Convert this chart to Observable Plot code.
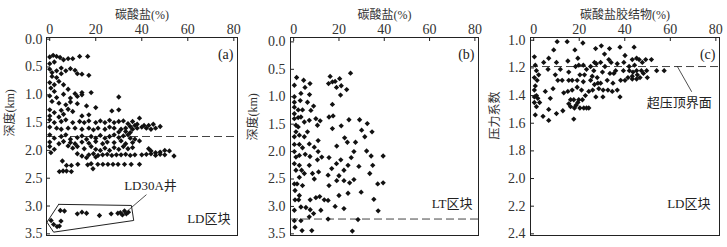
<!DOCTYPE html>
<html><head><meta charset="utf-8">
<script src="https://cdn.jsdelivr.net/npm/d3@7"></script>
<script src="https://cdn.jsdelivr.net/npm/@observablehq/plot@0.6"></script>
<style>
html,body{margin:0;padding:0;background:#fff;}
#wrap{position:relative;width:727px;height:247px;overflow:hidden;}
#wrap svg{position:absolute;top:0;}
#wrap svg text{font-family:'Liberation Serif','Noto Sans CJK SC',serif;}
</style></head><body><div id="wrap"></div>
<script>
// ---------- data ----------
const xTicks = [0, 20, 40, 60, 80];
const depthTicks = [0, 0.5, 1.0, 1.5, 2.0, 2.5, 3.0, 3.5];
const pressTicks = [1.0, 1.2, 1.4, 1.6, 1.8, 2.0, 2.2, 2.4];

// panel (a): carbonate % vs depth km, LD block
const carbA = [0,1.5,3,4.5,6,8,10,13,16.5,0,2,
0,1,3,5,7,9,11,12,14,17,1,3,5,
0,2,4,6,0.5,2,8,11,14,18,
0,3,6,9,12,14,30,1,4,7,9,12,16,20,
0,2,5,8,10,14,17,27,30,0,4,6,
0,2,5,7,10,13,15,17,20,22,24,26,28,30,32,34,36,39,41,43,45,48,37,38,
0,3,5,8,11,14,17,19,21,24,26,28,31,33,35,36,38,40,42,44,46,33,35,30,
0,2,5,7,9,12,14,16,18,20,22,24,26,28,30,32,34,35,37,39,0,4,6,9,11,14,17,20,23,25,28,31,33,36,
0,2,0.5,8,10,12,15,18,20,22,24,26,28,30,32,34,36,43,44,46,48,50,52,
12,14,17,19,21,23,25,27,29,31,33,35,37,40,42,44,46,48,50,54,16,20,
5.5,7.3,9.4,12.2,16.5,18,20.9,23.1,25.3,27.5,29.7,32.5,35.4,39,4.2,5.8,7.3,9.4,18.8,
4.6,6.4,12,14,16,21.6,26.7,29.6,30.7,31.6,32.5,33.3,34.2,0.6,1.7,3.2,4.2,4.9];
const depthA = [0.32,0.29,0.31,0.33,0.37,0.35,0.35,0.31,0.31,0.44,0.41,
0.54,0.6,0.57,0.52,0.57,0.53,0.56,0.62,0.63,0.65,0.67,0.69,0.62,
0.78,0.82,0.76,0.82,0.88,0.94,0.9,0.98,0.96,0.96,
1.02,1.05,0.99,1.06,1.03,1.0,1.04,1.12,1.15,1.18,1.13,1.16,1.2,1.23,
1.27,1.32,1.28,1.26,1.3,1.38,1.36,1.29,1.27,1.38,1.4,1.35,
1.45,1.5,1.48,1.45,1.5,1.48,1.5,1.47,1.5,1.47,1.5,1.46,1.5,1.48,1.47,1.52,1.48,1.42,1.55,1.55,1.53,1.57,1.55,1.53,
1.58,1.6,1.62,1.6,1.6,1.62,1.6,1.63,1.6,1.62,1.58,1.6,1.62,1.6,1.57,1.62,1.6,1.58,1.6,1.62,1.6,1.66,1.68,1.67,
1.72,1.78,1.75,1.72,1.8,1.77,1.74,1.8,1.75,1.78,1.73,1.78,1.75,1.72,1.77,1.74,1.72,1.78,1.8,1.83,1.85,1.88,1.84,1.86,1.88,1.85,1.87,1.84,1.88,1.85,1.86,1.83,1.88,1.86,
1.93,1.98,2.04,1.92,1.96,1.93,1.97,1.93,1.98,2.0,1.96,2.0,1.95,1.98,1.93,1.97,1.95,1.97,2.01,2.04,2.03,2.0,2.01,
2.06,2.1,2.08,2.06,2.09,2.08,2.07,2.09,2.08,2.08,2.07,2.09,2.08,2.08,2.07,2.06,2.09,2.07,2.08,2.1,2.13,2.12,
2.19,2.27,2.27,2.25,2.26,2.24,2.25,2.25,2.25,2.25,2.25,2.25,2.25,2.25,2.38,2.37,2.37,2.38,2.33,
3.08,3.09,3.14,3.11,3.13,3.17,3.14,3.13,3.12,3.16,3.09,3.14,3.11,3.26,3.33,3.37,3.36,3.27];
// LD30A well outline (annotation) and its leader
const boxX = [3.9,35.5,36.5,1.7,-1.2,3.9];
const boxY = [2.97,2.99,3.26,3.47,3.29,2.97];
const leadAX = [34.3,41.9];
const leadAY = [3.07,2.8];

// panel (b): carbonate % vs depth km, LT block
const carbB = [1.3,0.3,4.4,5,7.2,3.2,7,0.3,0.3,2.9,6.1,8.8,7.6,3.9,2,0.3,0.3,0.3,1,2,3.2,4.7,6.9,9.8,11.7,10.5,1,2,6.1,2.5,0.3,0.3,4.7,6.9,2.5,10.8,9.1,3.9,0.3,1,2.5,5.1,7.2,10.8,12.4,10.5,0.3,1,2.5,3.5,4.7,6.9,8.3,11,9.1,2.5,0.3,1.5,3.9,0.6,2.5,0.6,2.2,7.3,9.8,11.5,13.5,15.2,0.3,3.2,5.4,7.3,8.8,6.9,12,0.3,3.2,15.2,0.6,3.7,8,25.9,28.4,
25.1,16.1,15.4,17.1,18.3,20.3,18.9,21,23.4,20.7,17.1,15.6,17.4,24.4,21,17.1,22.5,19,23.7,29.1,32.5,30,31.4,34.6,27.3,32.2,26.6,34.2,39.5,25.4,15.6,20.8,18.9,24,16.8,22.2,15.2,20,28.8,34.9,33.6,26.6,24.7,19,22.2,15.6,37.1,39.5,29.8,24,20,35.4,18.3,22.2,37.3];
const depthB = [0.65,0.79,0.70,0.83,0.76,0.94,0.96,1.0,1.1,1.07,1.1,1.17,1.25,1.24,1.24,1.19,1.31,1.4,1.52,1.38,1.37,1.46,1.43,1.4,1.44,1.52,1.64,1.55,1.64,1.7,1.73,1.87,1.73,1.86,1.87,1.8,1.92,1.93,2.0,2.1,2.07,2.05,2.09,2.0,2.1,2.15,2.22,2.34,2.25,2.34,2.4,2.25,2.4,2.37,2.5,2.47,2.59,2.59,2.62,2.71,2.8,2.88,2.88,2.88,2.84,2.82,2.88,2.89,3.07,3.01,3.02,3.06,3.13,3.19,3.07,3.26,3.26,3.23,3.38,3.44,3.44,3.45,3.24,
0.57,0.63,0.76,0.73,0.72,0.67,0.83,0.8,0.87,0.97,1.14,1.37,1.35,1.42,1.53,1.58,1.75,1.9,1.83,1.42,1.49,1.61,1.73,1.64,1.83,1.99,2.0,2.08,2.08,2.11,2.11,2.15,2.22,2.25,2.31,2.34,2.43,2.44,2.27,2.25,2.4,2.51,2.57,2.53,2.53,2.62,2.59,2.57,2.74,2.76,2.8,2.87,3.0,3.04,3.08];

// panel (c): carbonate cement % vs pressure coefficient, LD block
const cementC = [0.3,0.7,1.2,2.2,0.3,1.5,0.7,0.3,1.2,0.3,1.8,2.6,0.3,1.2,0.7,4.1,6.6,6.6,7.3,4.4,6.6,6.3,8.5,5.1,10,12.8,8.8,10.3,10,11.7,9.5,10.6,12.5,13.2,15,15.4,14.7,15,15.4,16.9,16.9,16.2,15.4,16.2,17.6,17.9,18.1,18.4,19.4,19.8,20.3,19.1,19.1,21,19.8,19.4,20.3,18.6,21.6,21.8,22.3,21.8,21.4,22,23.2,24.2,17.6,22.7,24.2,25,25.7,23.2,25,26.4,27.2,26.7,27.5,27.9,26.7,25.9,28.6,28.2,27.3,29.7,29.4,30.2,29.4,30.5,30.4,31.1,31.3,32.3,32.6,33.3,33,34,33.5,34.8,35.2,34.5,36.7,36,36.7,38.2,37.9,37.9,39.4,40.1,39.6,40.1,41.4,41.9,43.3,43.3,44.1,43.6,43.3,44.3,45.2,45.2,45.5,46.3,46.7,47.3,47.7,48.2,49.2,49.6,49.9,51.7,54,57.3,45.2,42];
const pressC = [1.12,1.18,1.22,1.25,1.27,1.29,1.33,1.36,1.4,1.41,1.42,1.45,1.45,1.48,1.54,1.55,1.58,1.5,1.42,1.16,1.13,1.21,1.35,1.37,1.53,1.51,1.07,1.01,1.16,1.21,1.25,1.29,1.29,1.38,1.37,1.29,1.01,1.15,1.23,1.29,1.36,1.43,1.46,1.48,1.43,1.49,1.07,1.19,1.13,1.18,1.25,1.29,1.34,1.36,1.43,1.45,1.49,1.47,1.02,1.18,1.25,1.3,1.43,1.49,1.49,1.49,1.57,1.4,1.37,1.29,1.26,1.21,1.19,1.22,1.06,1.16,1.17,1.27,1.32,1.36,1.35,1.31,1.41,1.04,1.16,1.23,1.31,1.36,1.41,1.1,1.19,1.29,1.36,1.06,1.14,1.16,1.24,1.31,1.24,1.37,1.36,1.22,1.17,1.29,1.41,1.05,1.22,1.11,1.16,1.29,1.27,1.19,1.14,1.26,1.05,1.23,1.28,1.18,1.13,1.22,1.25,1.14,1.27,1.22,1.16,1.24,1.14,1.22,1.27,1.14,1.22,1.22,1.28,1.22];
const leadCX = [63.1,69.3];
const leadCY = [1.19,1.37];

// ---------- drawing ----------
const FONT = "'Liberation Serif','Noto Sans CJK SC',serif";
const INK = "#222";
const TXT = "#333";
const H = 247, MT = 37, MB = 12;

function panel(o){
  const innerW = o.width - o.ml - o.mr;
  const innerH = H - MT - MB;
  const pts = o.xs.map((x,i)=>({x, y:o.ys[i]}));
  const marks = [
    Plot.ruleY([o.dash], {y:d=>d, stroke:"#444", strokeWidth:1, strokeDasharray:"8,4"}),
    Plot.dot(pts, {x:"x", y:"y", symbol:"diamond2", r:2.4, fill:"#111", stroke:"none"}),
    Plot.frame({stroke:INK, strokeWidth:1}),
    Plot.tickX(xTicks, {x:d=>d, insetBottom: innerH-4, stroke:INK}),
    Plot.tickY(o.yTicks, {y:d=>d, insetRight: innerW-4, stroke:INK}),
    Plot.axisX(xTicks, {anchor:"top", tickSize:0, tickPadding:4, label:null, fontSize:14, fontFamily:FONT, fill:TXT}),
    Plot.axisY(o.yTicks, {anchor:"left", tickSize:0, tickPadding:o.tp, tickFormat:d3.format(".1f"), label:null, fontSize:14, fontFamily:FONT, fill:TXT}),
    Plot.text([o.title], {text:d=>d, frameAnchor:"top", dy:-27, fontSize:12, fontFamily:FONT, fill:TXT}),
    Plot.text([o.ylabel], {text:d=>d, frameAnchor:"left", dx:o.ydx, dy:o.ydy, rotate:-90, fontSize:12, fontFamily:FONT, fill:TXT}),
    Plot.text([o.tag], {text:d=>d, frameAnchor:"top-right", textAnchor:"end", dx:-4, dy:12, fontSize:14, fontFamily:FONT, fill:INK}),
    Plot.text([o.block], {text:d=>d, frameAnchor:"bottom-right", textAnchor:"end", dx:o.bdx, dy:o.bdy, fontSize:13, fontFamily:FONT, fill:INK}),
    ...(o.extra||[])
  ];
  const svg = Plot.plot({
    width:o.width, height:H, marginLeft:o.ml, marginRight:o.mr, marginTop:MT, marginBottom:MB,
    x:{domain:[-1.4,81.6], axis:null},
    y:{domain:o.yDomain, reverse:true, axis:null},
    style:{fontFamily:FONT, fontSize:"13px", color:TXT, background:"transparent", overflow:"visible"},
    marks
  });
  svg.style.left = o.left + "px";
  document.getElementById("wrap").appendChild(svg);
}

const ln = (xs, ys) => xs.map((x,i)=>({x, y:ys[i]}));

panel({left:0, width:240, ml:46, mr:3, yDomain:[-0.03,3.53], yTicks:depthTicks, tp:4,
  xs:carbA, ys:depthA, dash:1.75, title:"碳酸盐(%)", ylabel:"深度(km)", ydx:-36, ydy:0,
  tag:"(a)", block:"LD区块", bdx:-7, bdy:-13,
  extra:[
    Plot.line(ln(boxX,boxY), {x:"x", y:"y", stroke:INK, strokeWidth:1}),
    Plot.line(ln(leadAX,leadAY), {x:"x", y:"y", stroke:INK, strokeWidth:0.8}),
    Plot.text(["LD30A井"], {x:()=>43.8, y:()=>2.63, text:d=>d, fontSize:13, fontFamily:FONT, fill:INK})
  ]});

panel({left:240, width:242, ml:50, mr:4, yDomain:[-0.08,3.53], yTicks:depthTicks, tp:5,
  xs:carbB, ys:depthB, dash:3.23, title:"碳酸盐(%)", ylabel:"深度(km)", ydx:-37, ydy:4,
  tag:"(b)", block:"LT区块", bdx:-6, bdy:-28});

panel({left:480, width:247, ml:50, mr:8, yDomain:[0.98,2.412], yTicks:pressTicks, tp:5,
  xs:cementC, ys:pressC, dash:1.19, title:"碳酸盐胶结物(%)", ylabel:"压力系数", ydx:-35, ydy:3,
  tag:"(c)", block:"LD区块", bdx:-9, bdy:-28,
  extra:[
    Plot.line(ln(leadCX,leadCY), {x:"x", y:"y", stroke:INK, strokeWidth:0.8}),
    Plot.text(["超压顶界面"], {x:()=>63.9, y:()=>1.45, text:d=>d, fontSize:13, fontFamily:FONT, fill:INK})
  ]});
</script></body></html>
